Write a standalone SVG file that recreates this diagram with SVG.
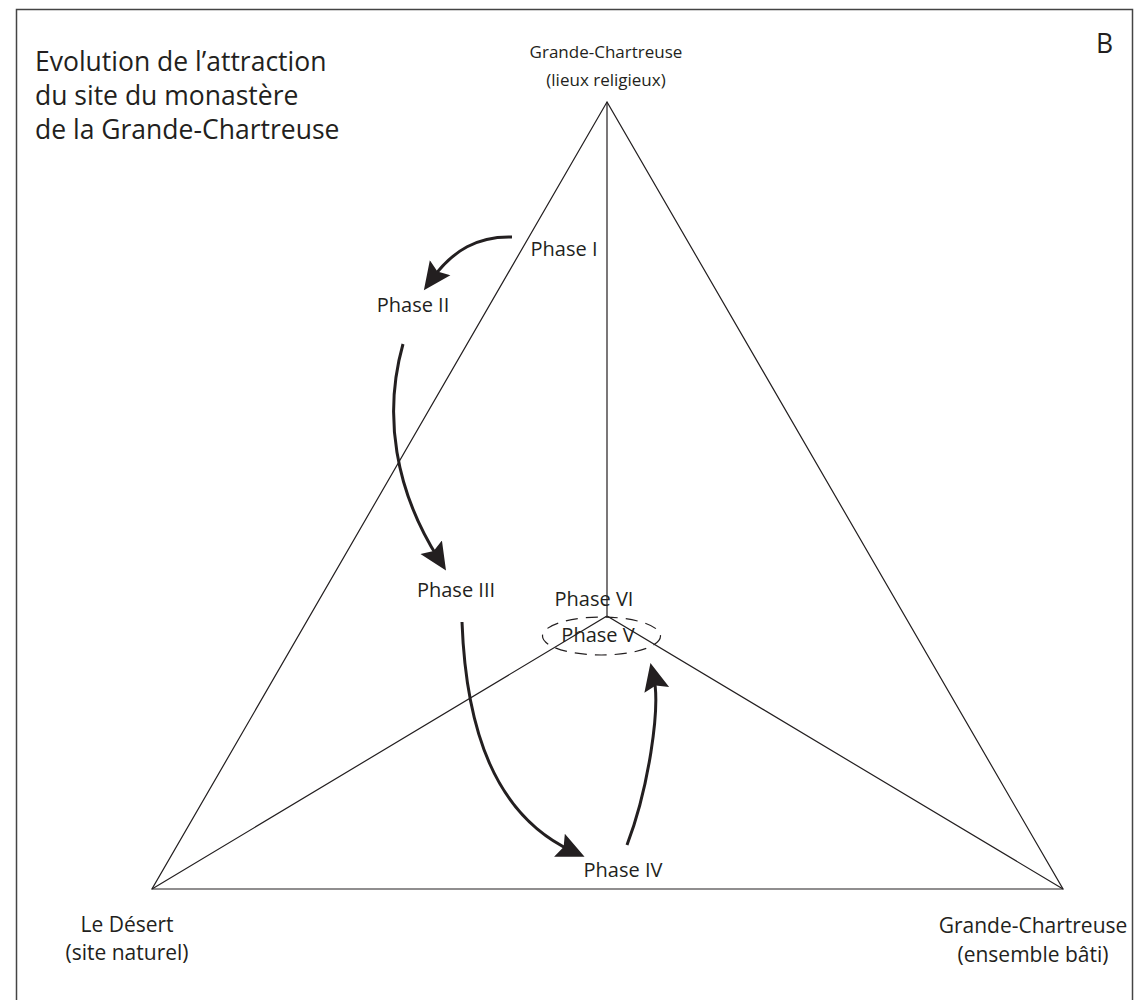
<svg xmlns="http://www.w3.org/2000/svg" width="1134" height="1000" viewBox="0 0 1134 1000">
<style>
  .lbl { font-family: "Open Sans", "Noto Sans", "Liberation Sans", sans-serif; fill: #231f20; }
  .ph { font-size: 20px; text-anchor: middle; }
  .corner { font-size: 21px; text-anchor: middle; }
  .top { font-size: 17px; text-anchor: middle; }
  .title { font-size: 26.5px; }
  .edge { stroke: #231f20; stroke-width: 1.2; fill: none; }
  .arrow { stroke: #231f20; stroke-width: 3; fill: none; marker-end: url(#head); }
</style>
<defs>
  <marker id="head" markerUnits="userSpaceOnUse" markerWidth="30" markerHeight="30" viewBox="0 -12 26 24" refX="12" refY="0" orient="auto">
    <path d="M0,-11 L24,0 L0,11 L4,0 Z" fill="#231f20"/>
  </marker>
</defs>
<rect x="0" y="0" width="1134" height="1000" fill="#ffffff"/>
<rect x="16.5" y="9.5" width="1116" height="1010" fill="none" stroke="#444" stroke-width="1.5"/>

<g id="title">
  <text class="lbl title" x="35" y="71">Evolution de l’attraction</text>
  <text class="lbl title" x="35" y="105">du site du monastère</text>
  <text class="lbl title" x="35" y="139">de la Grande-Chartreuse</text>
</g>
<text id="panel-label" class="lbl" x="1096" y="53" font-size="26.5px">B</text>

<g id="triangle">
  <path class="edge" d="M607,102 L152,889 L1063,889 Z"/>
  <path class="edge" d="M607,102 L607,616 M152,889 L607,616 L1063,889"/>
</g>

<g id="node-top">
  <text class="lbl top" x="606" y="58">Grande-Chartreuse</text>
  <text class="lbl top" x="606" y="86">(lieux religieux)</text>
</g>
<g id="node-left">
  <text class="lbl corner" x="127" y="932">Le Désert</text>
  <text class="lbl corner" x="127" y="960">(site naturel)</text>
</g>
<g id="node-right">
  <text class="lbl corner" x="1033" y="933">Grande-Chartreuse</text>
  <text class="lbl corner" x="1033" y="962">(ensemble bâti)</text>
</g>

<g id="phase-1"><text class="lbl ph" x="564" y="256">Phase I</text></g>
<g id="phase-2"><text class="lbl ph" x="413" y="312">Phase II</text></g>
<g id="phase-3"><text class="lbl ph" x="456" y="597">Phase III</text></g>
<g id="phase-4"><text class="lbl ph" x="623" y="877">Phase IV</text></g>
<g id="phase-6"><text class="lbl ph" x="594" y="606">Phase VI</text></g>
<g id="phase-5">
  <ellipse cx="601.5" cy="636" rx="59" ry="19" fill="none" stroke="#231f20" stroke-width="1.2" stroke-dasharray="12 8"/>
  <text class="lbl ph" x="598" y="642">Phase V</text>
</g>

<g id="connectors">
  <path class="arrow" d="M512,237 C478,236 453,250 432,279"/>
  <path class="arrow" d="M403,344 C383,415 395,490 438.6,558.9"/>
  <path class="arrow" d="M462,622 C466,730 495,815 572,851"/>
  <path class="arrow" d="M627,845 C648,790 661,708 653.6,676.4"/>
</g>
</svg>
